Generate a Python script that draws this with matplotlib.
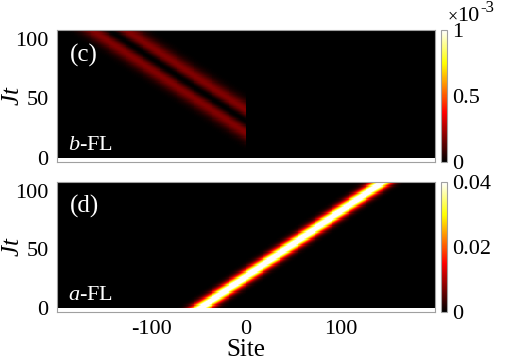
import numpy as np
import matplotlib
matplotlib.use("Agg")
import matplotlib.pyplot as plt
from matplotlib.colors import LinearSegmentedColormap

plt.rcParams['font.family'] = ['Liberation Serif', 'DejaVu Serif']
plt.rcParams['mathtext.fontset'] = 'custom'
plt.rcParams['mathtext.rm'] = 'Liberation Serif'
plt.rcParams['mathtext.it'] = 'Liberation Serif:italic'

# ---- data ----
sites = np.arange(-200, 201)          # lattice sites
times = np.arange(0.0, 106.0, 1.0)    # Jt samples

# b-FL packet (two lobes with a node), only on sites <= 0
b_node_t0 = 30.0      # Jt at which node crosses site 0
b_velocity = 1.9      # sites per unit Jt (moving left)
b_width = 18.0        # lobe offset in sites
b_peak = 0.19e-3

# a-FL packet (single gaussian), moving right
a_start = -47.0       # site at Jt=0
a_velocity = 1.8
a_width = 11.0
a_peak = 0.045

cbar_top_ticks = [0, 0.5e-3, 1e-3]
cbar_top_labels = ['0', '0.5', '1']
cbar_bot_ticks = [0, 0.02, 0.04]
cbar_bot_labels = ['0', '0.02', '0.04']
yticks = [0, 50, 100]
xticks = [-100, 0, 100]

X, T = np.meshgrid(sites, times)
u_b = (X + b_velocity * (T - b_node_t0)) / b_width
Ib = b_peak * u_b**2 * np.exp(1 - u_b**2)
Ib[X > 0] = 0.0

u_a = (X - (a_start + a_velocity * T)) / a_width
Ia = a_peak * np.exp(-u_a**2)

hot = LinearSegmentedColormap('mhot', {
    'red':   [(0, 0, 0), (0.375, 1, 1), (1, 1, 1)],
    'green': [(0, 0, 0), (0.375, 0, 0), (0.75, 1, 1), (1, 1, 1)],
    'blue':  [(0, 0, 0), (0.75, 0, 0), (1, 1, 1)],
}, N=256)

W, H = 505, 363
fig = plt.figure(figsize=(W / 100, H / 100), dpi=100)

def fx(px):
    return px / W

def fy(py):
    return 1 - py / H

ax_l, ax_r = 57, 435
cb_l, cb_r = 441, 447
panels = [
    (30, 162, Ib, 1e-3, cbar_top_ticks, cbar_top_labels, '(c)', '$b$-FL'),
    (182, 312, Ia, 0.04, cbar_bot_ticks, cbar_bot_labels, '(d)', '$a$-FL'),
]
extent = [sites[0] - 0.5, sites[-1] + 0.5, times[0] - 0.5, times[-1] + 0.5]
spine_col = '#a0a0a0'
for i, (top, bot, data, vmax, cticks, clabels, tag, name) in enumerate(panels):
    ax = fig.add_axes([fx(ax_l), fy(bot), fx(ax_r - ax_l), (bot - top) / H])
    im = ax.imshow(data, origin='lower', aspect='auto', cmap=hot,
                   vmin=0, vmax=vmax, extent=extent, interpolation='nearest')
    ax.set_xlim(-200, 200)
    ax.set_ylim(-3.5, 107.5)
    ax.set_yticks(yticks)
    ax.set_xticks(xticks)
    ax.tick_params(direction='in', length=0, labelsize=16, pad=6)
    for s in ax.spines.values():
        s.set_color(spine_col)
    fig.text(fx(13), fy((top + bot) / 2), '$Jt$', fontsize=18, rotation=90,
             ha='center', va='center')
    if i == 0:
        ax.set_xticklabels([])
    else:
        ax.set_xticklabels(['-100', '0', '100'])
        ax.set_xlabel('Site', fontsize=18, labelpad=0)
    ax.text(0.033, 0.81, tag, transform=ax.transAxes, color='white',
            fontsize=18, ha='left', va='center')
    ax.text(0.03, 0.09, name, transform=ax.transAxes, color='white',
            fontsize=16, ha='left', va='baseline')
    cax = fig.add_axes([fx(cb_l), fy(bot), fx(cb_r - cb_l), (bot - top) / H])
    cb = fig.colorbar(im, cax=cax, ticks=cticks)
    cb.ax.set_yticklabels(clabels)
    cb.ax.tick_params(length=0, labelsize=16, pad=4)
    cb.outline.set_edgecolor(spine_col)

fig.text(fx(448), fy(21), '\u00d7', fontsize=13, ha='left', va='baseline')
fig.text(fx(457), fy(21), '10', fontsize=16, ha='left', va='baseline')
fig.text(fx(480), fy(12), '-3', fontsize=12, ha='left', va='baseline')

fig.savefig('out.png', dpi=100)
